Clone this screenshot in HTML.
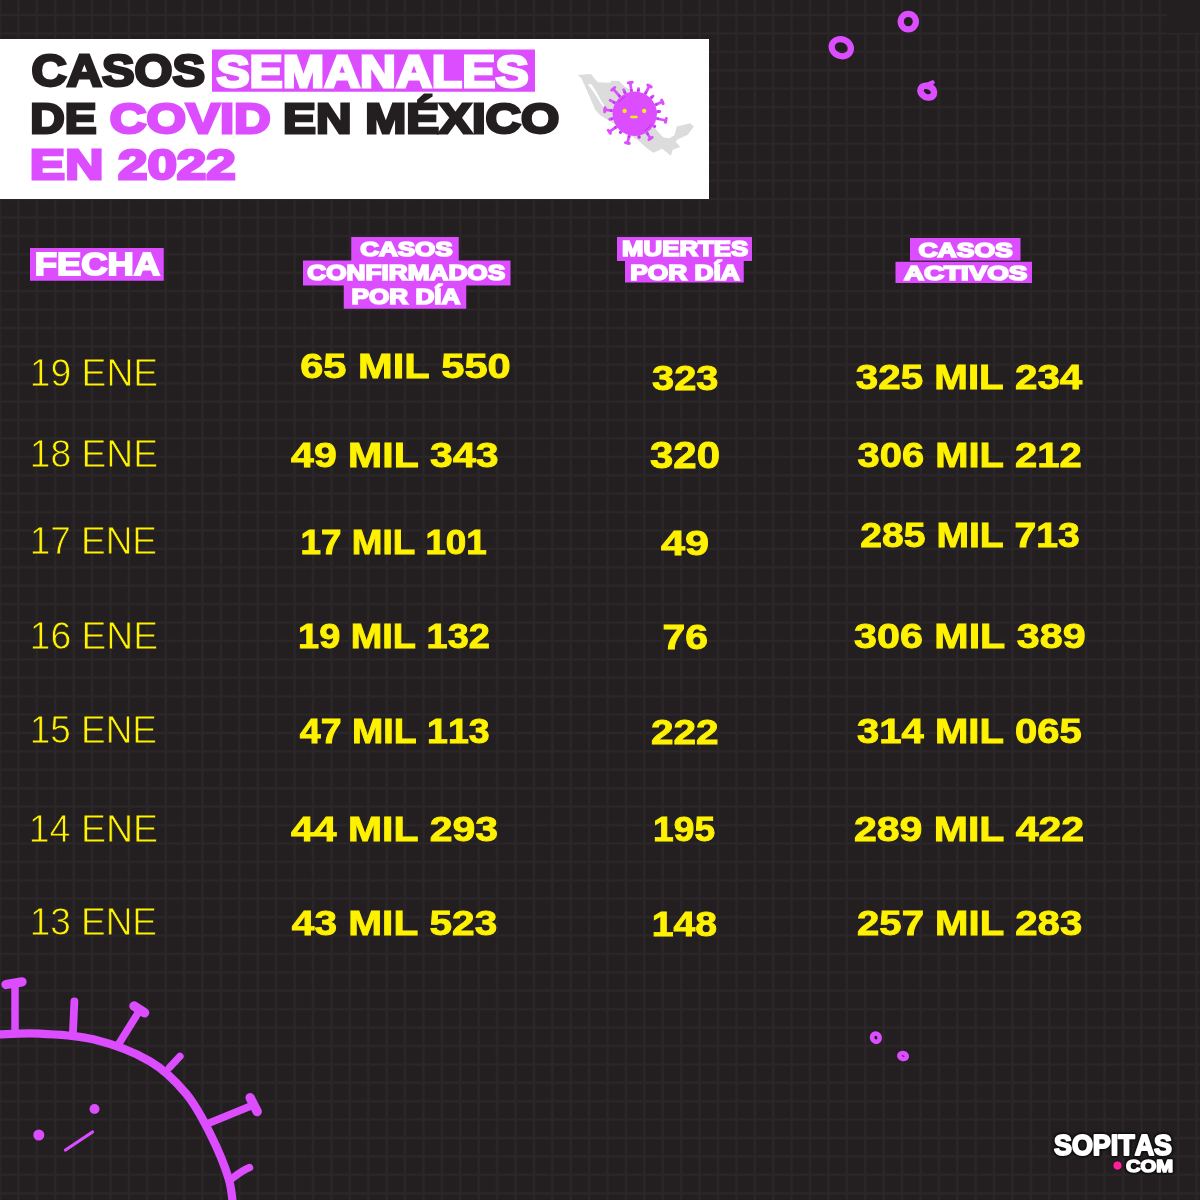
<!DOCTYPE html>
<html lang="es"><head><meta charset="utf-8"><title>Casos semanales de COVID en México en 2022</title>
<style>
html,body{margin:0;padding:0;background:#231f20}
body{width:1200px;height:1200px;overflow:hidden}
svg{display:block}
svg text{font-family:"Liberation Sans","DejaVu Sans",sans-serif;font-kerning:none;white-space:pre}
</style></head><body>
<svg width="1200" height="1200" viewBox="0 0 1200 1200">
<rect width="1200" height="1200" fill="#231f20"/>
<path d="M0.00 0V1200M18.41 0V1200M36.82 0V1200M55.23 0V1200M73.64 0V1200M92.05 0V1200M110.46 0V1200M128.87 0V1200M147.28 0V1200M165.69 0V1200M184.10 0V1200M202.51 0V1200M220.92 0V1200M239.33 0V1200M257.74 0V1200M276.15 0V1200M294.56 0V1200M312.97 0V1200M331.38 0V1200M349.79 0V1200M368.20 0V1200M386.61 0V1200M405.02 0V1200M423.43 0V1200M441.84 0V1200M460.25 0V1200M478.66 0V1200M497.07 0V1200M515.48 0V1200M533.89 0V1200M552.30 0V1200M570.71 0V1200M589.12 0V1200M607.53 0V1200M625.94 0V1200M644.35 0V1200M662.76 0V1200M681.17 0V1200M699.58 0V1200M717.99 0V1200M736.40 0V1200M754.81 0V1200M773.22 0V1200M791.63 0V1200M810.04 0V1200M828.45 0V1200M846.86 0V1200M865.27 0V1200M883.68 0V1200M902.09 0V1200M920.50 0V1200M938.91 0V1200M957.32 0V1200M975.73 0V1200M994.14 0V1200M1012.55 0V1200M1030.96 0V1200M1049.37 0V1200M1067.78 0V1200M1086.19 0V1200M1104.60 0V1200M1123.01 0V1200M1141.42 0V1200M1159.83 0V1200M1178.24 0V1200M1196.65 0V1200M1215.06 0V1200M0 -3.40H1200M0 15.01H1200M0 33.42H1200M0 51.83H1200M0 70.24H1200M0 88.65H1200M0 107.06H1200M0 125.47H1200M0 143.88H1200M0 162.29H1200M0 180.70H1200M0 199.11H1200M0 217.52H1200M0 235.93H1200M0 254.34H1200M0 272.75H1200M0 291.16H1200M0 309.57H1200M0 327.98H1200M0 346.39H1200M0 364.80H1200M0 383.21H1200M0 401.62H1200M0 420.03H1200M0 438.44H1200M0 456.85H1200M0 475.26H1200M0 493.67H1200M0 512.08H1200M0 530.49H1200M0 548.90H1200M0 567.31H1200M0 585.72H1200M0 604.13H1200M0 622.54H1200M0 640.95H1200M0 659.36H1200M0 677.77H1200M0 696.18H1200M0 714.59H1200M0 733.00H1200M0 751.41H1200M0 769.82H1200M0 788.23H1200M0 806.64H1200M0 825.05H1200M0 843.46H1200M0 861.87H1200M0 880.28H1200M0 898.69H1200M0 917.10H1200M0 935.51H1200M0 953.92H1200M0 972.33H1200M0 990.74H1200M0 1009.15H1200M0 1027.56H1200M0 1045.97H1200M0 1064.38H1200M0 1082.79H1200M0 1101.20H1200M0 1119.61H1200M0 1138.02H1200M0 1156.43H1200M0 1174.84H1200M0 1193.25H1200M0 1211.66H1200" stroke="#272324" stroke-width="3.4" fill="none"/>
<path d="M0.00 0V1200M18.41 0V1200M36.82 0V1200M55.23 0V1200M73.64 0V1200M92.05 0V1200M110.46 0V1200M128.87 0V1200M147.28 0V1200M165.69 0V1200M184.10 0V1200M202.51 0V1200M220.92 0V1200M239.33 0V1200M257.74 0V1200M276.15 0V1200M294.56 0V1200M312.97 0V1200M331.38 0V1200M349.79 0V1200M368.20 0V1200M386.61 0V1200M405.02 0V1200M423.43 0V1200M441.84 0V1200M460.25 0V1200M478.66 0V1200M497.07 0V1200M515.48 0V1200M533.89 0V1200M552.30 0V1200M570.71 0V1200M589.12 0V1200M607.53 0V1200M625.94 0V1200M644.35 0V1200M662.76 0V1200M681.17 0V1200M699.58 0V1200M717.99 0V1200M736.40 0V1200M754.81 0V1200M773.22 0V1200M791.63 0V1200M810.04 0V1200M828.45 0V1200M846.86 0V1200M865.27 0V1200M883.68 0V1200M902.09 0V1200M920.50 0V1200M938.91 0V1200M957.32 0V1200M975.73 0V1200M994.14 0V1200M1012.55 0V1200M1030.96 0V1200M1049.37 0V1200M1067.78 0V1200M1086.19 0V1200M1104.60 0V1200M1123.01 0V1200M1141.42 0V1200M1159.83 0V1200M1178.24 0V1200M1196.65 0V1200M1215.06 0V1200M0 -3.40H1200M0 15.01H1200M0 33.42H1200M0 51.83H1200M0 70.24H1200M0 88.65H1200M0 107.06H1200M0 125.47H1200M0 143.88H1200M0 162.29H1200M0 180.70H1200M0 199.11H1200M0 217.52H1200M0 235.93H1200M0 254.34H1200M0 272.75H1200M0 291.16H1200M0 309.57H1200M0 327.98H1200M0 346.39H1200M0 364.80H1200M0 383.21H1200M0 401.62H1200M0 420.03H1200M0 438.44H1200M0 456.85H1200M0 475.26H1200M0 493.67H1200M0 512.08H1200M0 530.49H1200M0 548.90H1200M0 567.31H1200M0 585.72H1200M0 604.13H1200M0 622.54H1200M0 640.95H1200M0 659.36H1200M0 677.77H1200M0 696.18H1200M0 714.59H1200M0 733.00H1200M0 751.41H1200M0 769.82H1200M0 788.23H1200M0 806.64H1200M0 825.05H1200M0 843.46H1200M0 861.87H1200M0 880.28H1200M0 898.69H1200M0 917.10H1200M0 935.51H1200M0 953.92H1200M0 972.33H1200M0 990.74H1200M0 1009.15H1200M0 1027.56H1200M0 1045.97H1200M0 1064.38H1200M0 1082.79H1200M0 1101.20H1200M0 1119.61H1200M0 1138.02H1200M0 1156.43H1200M0 1174.84H1200M0 1193.25H1200M0 1211.66H1200" stroke="#2b2728" stroke-width="1.8" fill="none"/>
<rect x="1167.00" y="0.00" width="33.00" height="33.00" fill="#231f20"/>
<rect x="0.00" y="39.00" width="709.00" height="160.00" fill="#ffffff"/>
<rect x="212.00" y="49.50" width="323.00" height="42.25" fill="#dc4dff"/>
<text x="31.40" y="86.40" font-size="44.19" font-weight="700" fill="#231f20" textLength="173.61" lengthAdjust="spacingAndGlyphs" stroke="#231f20" stroke-width="2.80" stroke-linejoin="miter" stroke-miterlimit="2.5">CASOS</text>
<text x="216.47" y="86.80" font-size="45.20" font-weight="700" fill="#ffffff" textLength="312.07" lengthAdjust="spacingAndGlyphs" stroke="#ffffff" stroke-width="2.80" stroke-linejoin="miter" stroke-miterlimit="2.5">SEMANALES</text>
<text x="30.21" y="133.10" font-size="42.44" font-weight="700" fill="#231f20" textLength="66.25" lengthAdjust="spacingAndGlyphs" stroke="#231f20" stroke-width="2.80" stroke-linejoin="miter" stroke-miterlimit="2.5">DE</text>
<text x="109.82" y="133.10" font-size="42.44" font-weight="700" fill="#dc4dff" textLength="160.92" lengthAdjust="spacingAndGlyphs" stroke="#dc4dff" stroke-width="2.80" stroke-linejoin="miter" stroke-miterlimit="2.5">COVID</text>
<text x="283.11" y="133.10" font-size="42.44" font-weight="700" fill="#231f20" textLength="276.31" lengthAdjust="spacingAndGlyphs" stroke="#231f20" stroke-width="2.80" stroke-linejoin="miter" stroke-miterlimit="2.5">EN MÉXICO</text>
<text x="29.86" y="179.10" font-size="43.17" font-weight="700" fill="#dc4dff" textLength="205.86" lengthAdjust="spacingAndGlyphs" stroke="#dc4dff" stroke-width="2.80" stroke-linejoin="miter" stroke-miterlimit="2.5">EN 2022</text>
<g transform="translate(570 60) scale(0.116667)">
<path d="M68 128 L180 120 L215 165 L240 190 L345 195 L355 178 L420 180 L470 230 L600 300 L740 600 L800 665 L850 670 L895 645 L915 570 L1030 543 L1062 570 L1010 640 L925 680 L905 700 L945 745 L880 770 L865 820 L790 760 L715 795 L650 750 L600 700 L540 660 L400 560 L300 500 L255 470 L215 425 L175 330 L140 250 L100 160 Z" fill="#dcdcdc"/>
<path d="M152 208 L184 207 L225 270 L265 345 L300 400 L325 440 L296 415 L258 365 L222 305 L186 252 Z" fill="#ffffff"/>
</g>
<g stroke="#dc4dff" stroke-linecap="round" fill="none">
<path d="M631.9 93.9 L630.2 82.6" stroke-width="2.7"/>
<path d="M628.2 82.9 L632.2 82.3" stroke-width="2.9"/>
<path d="M644.1 96.0 L649.4 86.0" stroke-width="2.7"/>
<path d="M647.7 85.1 L651.2 86.9" stroke-width="2.9"/>
<path d="M653.1 105.8 L662.4 101.8" stroke-width="2.7"/>
<path d="M661.6 100.0 L663.2 103.7" stroke-width="2.9"/>
<path d="M654.3 118.0 L665.9 120.5" stroke-width="2.7"/>
<path d="M666.3 118.5 L665.4 122.4" stroke-width="2.9"/>
<path d="M645.5 130.6 L650.5 138.5" stroke-width="2.7"/>
<path d="M652.2 137.4 L648.9 139.6" stroke-width="2.9"/>
<path d="M629.9 133.1 L627.4 143.1" stroke-width="2.7"/>
<path d="M629.3 143.5 L625.5 142.6" stroke-width="2.9"/>
<path d="M618.5 125.3 L609.3 131.8" stroke-width="2.7"/>
<path d="M610.5 133.4 L608.2 130.2" stroke-width="2.9"/>
<path d="M614.9 111.1 L604.8 109.7" stroke-width="2.7"/>
<path d="M604.6 111.7 L605.1 107.8" stroke-width="2.9"/>
<path d="M621.7 98.6 L613.2 88.8" stroke-width="2.7"/>
<path d="M611.7 90.1 L614.8 87.5" stroke-width="2.9"/>
<path d="M637.8 93.9 L638.6 88.6" stroke-width="2.8"/>
<path d="M649.1 99.8 L653.1 95.9" stroke-width="2.8"/>
<path d="M654.7 111.9 L659.8 111.5" stroke-width="2.8"/>
<path d="M651.6 124.5 L654.7 126.5" stroke-width="2.8"/>
<path d="M638.4 133.4 L639.2 137.6" stroke-width="2.8"/>
<path d="M622.6 129.6 L620.3 132.6" stroke-width="2.8"/>
<path d="M615.2 118.0 L609.7 119.3" stroke-width="2.8"/>
<path d="M617.2 104.1 L610.1 100.3" stroke-width="2.8"/>
<path d="M626.3 95.6 L623.6 89.7" stroke-width="2.8"/>
</g>
<path d="M631.5 91.1L631.2 89.4M645.4 93.6L646.3 92.0M655.7 104.7L657.4 104.0M657.0 118.6L658.8 118.9M647.0 132.9L648.0 134.5M629.2 135.8L628.8 137.6M616.2 126.9L614.7 128.0M612.1 110.7L610.4 110.5M619.8 96.4L618.7 95.1M638.3 91.2L638.5 89.4M651.1 97.8L652.4 96.6M657.5 111.7L659.3 111.5M654.0 126.0L655.5 126.9M638.9 136.1L639.2 137.9M620.9 131.8L619.8 133.2M612.5 118.6L610.7 119.0M614.7 102.8L613.2 101.9M625.1 93.0L624.4 91.4" stroke="#b63ce6" stroke-width="2.8" fill="none"/>
<circle cx="634.75" cy="113.7" r="22.2" fill="#dc4dff"/>
<circle cx="634.75" cy="113.7" r="19.6" fill="none" stroke="#a62fd6" stroke-width="0.9" stroke-dasharray="9 52.6" stroke-dashoffset="-11.5" opacity="0.9"/>
<circle cx="624.6" cy="111" r="2.15" fill="#fff200"/><circle cx="644.2" cy="111" r="2.15" fill="#fff200"/>
<path d="M631.3 117 L636.6 117" stroke="#fff200" stroke-width="2.3" stroke-linecap="round"/>
<rect x="30.00" y="248.00" width="133.75" height="32.75" fill="#dc4dff"/>
<text x="34.77" y="274.55" font-size="31.40" font-weight="700" fill="#ffffff" textLength="125.24" lengthAdjust="spacingAndGlyphs" stroke="#ffffff" stroke-width="1.90" stroke-linejoin="miter" stroke-miterlimit="2.5">FECHA</text>
<rect x="351.25" y="237.00" width="107.50" height="24.00" fill="#dc4dff"/>
<rect x="303.00" y="260.50" width="207.50" height="25.00" fill="#dc4dff"/>
<rect x="343.75" y="285.00" width="122.50" height="23.75" fill="#dc4dff"/>
<text x="360.28" y="256.15" font-size="20.42" font-weight="700" fill="#ffffff" textLength="92.38" lengthAdjust="spacingAndGlyphs" stroke="#ffffff" stroke-width="1.70" stroke-linejoin="miter" stroke-miterlimit="2.5">CASOS</text>
<text x="307.28" y="280.40" font-size="21.15" font-weight="700" fill="#ffffff" textLength="197.90" lengthAdjust="spacingAndGlyphs" stroke="#ffffff" stroke-width="1.70" stroke-linejoin="miter" stroke-miterlimit="2.5">CONFIRMADOS</text>
<text x="351.60" y="304.15" font-size="21.15" font-weight="700" fill="#ffffff" textLength="108.73" lengthAdjust="spacingAndGlyphs" stroke="#ffffff" stroke-width="1.70" stroke-linejoin="miter" stroke-miterlimit="2.5">POR DÍA</text>
<rect x="617.00" y="237.00" width="135.00" height="24.00" fill="#dc4dff"/>
<rect x="625.00" y="260.50" width="118.75" height="22.00" fill="#dc4dff"/>
<text x="622.13" y="256.15" font-size="21.51" font-weight="700" fill="#ffffff" textLength="126.03" lengthAdjust="spacingAndGlyphs" stroke="#ffffff" stroke-width="1.70" stroke-linejoin="miter" stroke-miterlimit="2.5">MUERTES</text>
<text x="630.34" y="279.90" font-size="21.15" font-weight="700" fill="#ffffff" textLength="109.50" lengthAdjust="spacingAndGlyphs" stroke="#ffffff" stroke-width="1.70" stroke-linejoin="miter" stroke-miterlimit="2.5">POR DÍA</text>
<rect x="910.00" y="238.00" width="110.50" height="22.60" fill="#dc4dff"/>
<rect x="895.50" y="261.80" width="136.50" height="21.20" fill="#dc4dff"/>
<text x="918.51" y="257.15" font-size="20.78" font-weight="700" fill="#ffffff" textLength="94.17" lengthAdjust="spacingAndGlyphs" stroke="#ffffff" stroke-width="1.70" stroke-linejoin="miter" stroke-miterlimit="2.5">CASOS</text>
<text x="903.91" y="279.90" font-size="20.42" font-weight="700" fill="#ffffff" textLength="123.32" lengthAdjust="spacingAndGlyphs" stroke="#ffffff" stroke-width="1.70" stroke-linejoin="miter" stroke-miterlimit="2.5">ACTIVOS</text>
<text x="29.76" y="385.90" font-size="38.23" font-weight="400" fill="#fff200" textLength="128.49" lengthAdjust="spacingAndGlyphs" stroke="#231f20" stroke-width="0.80">19 ENE</text>
<text x="29.77" y="467.15" font-size="38.23" font-weight="400" fill="#fff200" textLength="128.23" lengthAdjust="spacingAndGlyphs" stroke="#231f20" stroke-width="0.80">18 ENE</text>
<text x="29.79" y="554.15" font-size="38.59" font-weight="400" fill="#fff200" textLength="127.20" lengthAdjust="spacingAndGlyphs" stroke="#231f20" stroke-width="0.80">17 ENE</text>
<text x="29.77" y="649.15" font-size="38.59" font-weight="400" fill="#fff200" textLength="128.23" lengthAdjust="spacingAndGlyphs" stroke="#231f20" stroke-width="0.80">16 ENE</text>
<text x="29.79" y="743.40" font-size="38.23" font-weight="400" fill="#fff200" textLength="127.20" lengthAdjust="spacingAndGlyphs" stroke="#231f20" stroke-width="0.80">15 ENE</text>
<text x="28.74" y="841.65" font-size="38.59" font-weight="400" fill="#fff200" textLength="129.27" lengthAdjust="spacingAndGlyphs" stroke="#231f20" stroke-width="0.80">14 ENE</text>
<text x="29.79" y="934.90" font-size="38.59" font-weight="400" fill="#fff200" textLength="127.20" lengthAdjust="spacingAndGlyphs" stroke="#231f20" stroke-width="0.80">13 ENE</text>
<text x="300.18" y="378.30" font-size="35.03" font-weight="700" fill="#fff200" textLength="210.58" lengthAdjust="spacingAndGlyphs" stroke="#fff200" stroke-width="0.90" stroke-linejoin="miter" stroke-miterlimit="2.5">65 MIL 550</text>
<text x="291.08" y="467.05" font-size="35.03" font-weight="700" fill="#fff200" textLength="207.45" lengthAdjust="spacingAndGlyphs" stroke="#fff200" stroke-width="0.90" stroke-linejoin="miter" stroke-miterlimit="2.5">49 MIL 343</text>
<text x="300.63" y="554.05" font-size="34.30" font-weight="700" fill="#fff200" textLength="186.19" lengthAdjust="spacingAndGlyphs" stroke="#fff200" stroke-width="0.90" stroke-linejoin="miter" stroke-miterlimit="2.5">17 MIL 101</text>
<text x="298.06" y="648.30" font-size="35.03" font-weight="700" fill="#fff200" textLength="191.76" lengthAdjust="spacingAndGlyphs" stroke="#fff200" stroke-width="0.90" stroke-linejoin="miter" stroke-miterlimit="2.5">19 MIL 132</text>
<text x="299.88" y="743.30" font-size="35.03" font-weight="700" fill="#fff200" textLength="189.77" lengthAdjust="spacingAndGlyphs" stroke="#fff200" stroke-width="0.90" stroke-linejoin="miter" stroke-miterlimit="2.5">47 MIL 113</text>
<text x="291.08" y="840.80" font-size="35.03" font-weight="700" fill="#fff200" textLength="206.95" lengthAdjust="spacingAndGlyphs" stroke="#fff200" stroke-width="0.90" stroke-linejoin="miter" stroke-miterlimit="2.5">44 MIL 293</text>
<text x="291.84" y="935.05" font-size="35.76" font-weight="700" fill="#fff200" textLength="205.43" lengthAdjust="spacingAndGlyphs" stroke="#fff200" stroke-width="0.90" stroke-linejoin="miter" stroke-miterlimit="2.5">43 MIL 523</text>
<text x="652.04" y="389.55" font-size="35.76" font-weight="700" fill="#fff200" textLength="66.45" lengthAdjust="spacingAndGlyphs" stroke="#fff200" stroke-width="0.90" stroke-linejoin="miter" stroke-miterlimit="2.5">323</text>
<text x="649.99" y="468.30" font-size="36.12" font-weight="700" fill="#fff200" textLength="70.03" lengthAdjust="spacingAndGlyphs" stroke="#fff200" stroke-width="0.90" stroke-linejoin="miter" stroke-miterlimit="2.5">320</text>
<text x="661.05" y="555.30" font-size="35.39" font-weight="700" fill="#fff200" textLength="48.11" lengthAdjust="spacingAndGlyphs" stroke="#fff200" stroke-width="0.90" stroke-linejoin="miter" stroke-miterlimit="2.5">49</text>
<text x="662.44" y="649.05" font-size="35.03" font-weight="700" fill="#fff200" textLength="45.59" lengthAdjust="spacingAndGlyphs" stroke="#fff200" stroke-width="0.90" stroke-linejoin="miter" stroke-miterlimit="2.5">76</text>
<text x="651.04" y="744.05" font-size="35.03" font-weight="700" fill="#fff200" textLength="67.63" lengthAdjust="spacingAndGlyphs" stroke="#fff200" stroke-width="0.90" stroke-linejoin="miter" stroke-miterlimit="2.5">222</text>
<text x="653.11" y="841.30" font-size="35.76" font-weight="700" fill="#fff200" textLength="61.97" lengthAdjust="spacingAndGlyphs" stroke="#fff200" stroke-width="0.90" stroke-linejoin="miter" stroke-miterlimit="2.5">195</text>
<text x="651.74" y="935.80" font-size="35.03" font-weight="700" fill="#fff200" textLength="65.27" lengthAdjust="spacingAndGlyphs" stroke="#fff200" stroke-width="0.90" stroke-linejoin="miter" stroke-miterlimit="2.5">148</text>
<text x="855.77" y="389.05" font-size="35.03" font-weight="700" fill="#fff200" textLength="226.49" lengthAdjust="spacingAndGlyphs" stroke="#fff200" stroke-width="0.90" stroke-linejoin="miter" stroke-miterlimit="2.5">325 MIL 234</text>
<text x="857.53" y="467.05" font-size="35.03" font-weight="700" fill="#fff200" textLength="224.11" lengthAdjust="spacingAndGlyphs" stroke="#fff200" stroke-width="0.90" stroke-linejoin="miter" stroke-miterlimit="2.5">306 MIL 212</text>
<text x="860.35" y="547.05" font-size="34.30" font-weight="700" fill="#fff200" textLength="219.37" lengthAdjust="spacingAndGlyphs" stroke="#fff200" stroke-width="0.90" stroke-linejoin="miter" stroke-miterlimit="2.5">285 MIL 713</text>
<text x="854.00" y="648.30" font-size="35.03" font-weight="700" fill="#fff200" textLength="231.58" lengthAdjust="spacingAndGlyphs" stroke="#fff200" stroke-width="0.90" stroke-linejoin="miter" stroke-miterlimit="2.5">306 MIL 389</text>
<text x="857.03" y="743.30" font-size="35.03" font-weight="700" fill="#fff200" textLength="224.88" lengthAdjust="spacingAndGlyphs" stroke="#fff200" stroke-width="0.90" stroke-linejoin="miter" stroke-miterlimit="2.5">314 MIL 065</text>
<text x="854.03" y="840.80" font-size="35.03" font-weight="700" fill="#fff200" textLength="230.16" lengthAdjust="spacingAndGlyphs" stroke="#fff200" stroke-width="0.90" stroke-linejoin="miter" stroke-miterlimit="2.5">289 MIL 422</text>
<text x="857.06" y="935.05" font-size="35.76" font-weight="700" fill="#fff200" textLength="225.19" lengthAdjust="spacingAndGlyphs" stroke="#fff200" stroke-width="0.90" stroke-linejoin="miter" stroke-miterlimit="2.5">257 MIL 283</text>
<g fill="none" stroke="#dc4dff" stroke-linecap="round" stroke-linejoin="round">
<!-- floating rings top right -->
<ellipse cx="841.3" cy="47.7" rx="9.8" ry="8.4" stroke-width="6.2" transform="rotate(22 841.3 47.7)"/>
<ellipse cx="908.3" cy="21.6" rx="7.6" ry="7.8" stroke-width="6.2"/>
<ellipse cx="927.3" cy="91.6" rx="7.1" ry="5.6" stroke-width="6.6" transform="rotate(25 927.3 91.6)"/>
<path d="M928 84.5 L932.5 82.5" stroke-width="4.5"/>
<!-- small rings bottom right -->
<ellipse cx="875.9" cy="1037.6" rx="3.7" ry="4.2" stroke-width="4.6" transform="rotate(-25 875.9 1037.6)"/>
<ellipse cx="903.1" cy="1056" rx="3.8" ry="2.8" stroke-width="4.6" transform="rotate(15 903.1 1056)"/>
<!-- big virus bottom left -->
<path d="M-10.0 1035.3 C-8.3 1035.2 -8.3 1034.7 0.0 1034.4 C8.3 1034.1 24.5 1032.9 40.0 1033.7 C55.5 1034.5 75.0 1034.7 93.3 1039.3 C111.6 1043.9 134.6 1052.3 150.0 1061.3 C165.4 1070.3 176.0 1081.5 186.0 1093.5 C196.0 1105.5 202.9 1119.1 210.0 1133.3 C217.1 1147.5 224.8 1165.6 228.7 1178.7 C232.6 1191.8 232.7 1206.5 233.5 1212.0" stroke-width="8.3"/>
<path d="M15 1031 L15 985" stroke-width="7.5"/>
<path d="M6 984.5 L22 981.8" stroke-width="9.3"/>
<path d="M73 1032 L74.4 1001.3" stroke-width="7.8"/>
<path d="M118.7 1044 L138.7 1012" stroke-width="7.5"/>
<path d="M134 1006 L144.6 1012.8" stroke-width="9.4"/>
<path d="M169.5 1067.5 L180 1056.3" stroke-width="7.3"/>
<path d="M208.7 1123.3 L252.7 1105.3" stroke-width="7.5"/>
<path d="M250.2 1097.8 L257.2 1111.6" stroke-width="9.4"/>
<path d="M232.7 1178 Q243 1170 249.5 1167.5" stroke-width="7.5"/>
<path d="M65.500 1150 L92.500 1132" stroke-width="3.200"/>
</g>
<circle cx="94.5" cy="1109" r="5" fill="#dc4dff"/>
<circle cx="38.8" cy="1135" r="5.5" fill="#dc4dff"/>

<text x="1053.98" y="1155.00" font-size="29.43" font-weight="700" fill="#ffffff" textLength="118.08" lengthAdjust="spacingAndGlyphs" stroke="#ffffff" stroke-width="2.00" stroke-linejoin="round" style="filter:drop-shadow(0 0 0.8px #0d0b0c) drop-shadow(0 0 0.8px #0d0b0c) drop-shadow(0 0.6px 0.6px #0d0b0c)">SOPITAS</text>
<text x="1125.92" y="1172.45" font-size="17.01" font-weight="700" fill="#ffffff" textLength="47.18" lengthAdjust="spacingAndGlyphs" stroke="#ffffff" stroke-width="1.50" stroke-linejoin="round" style="filter:drop-shadow(0 0 0.8px #0d0b0c) drop-shadow(0 0 0.8px #0d0b0c) drop-shadow(0 0.6px 0.6px #0d0b0c)">COM</text>
<circle cx="1117.5" cy="1165.6" r="4.6" fill="#ff1e9c" stroke="#111" stroke-width="0.8"/>
</svg>
</body></html>
